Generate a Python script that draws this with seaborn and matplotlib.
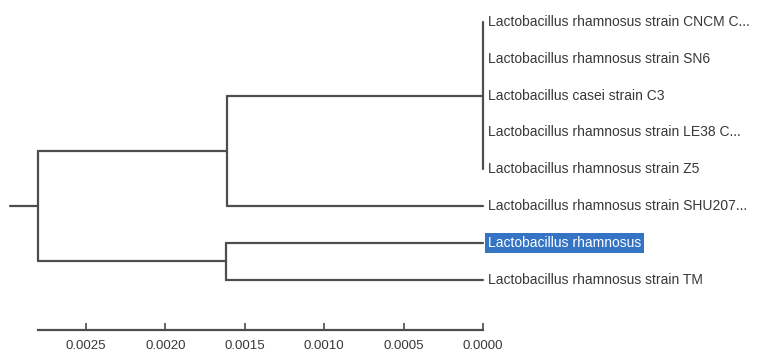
"""
Phylogenetic tree of Lactobacillus strains, redrawn as a dendrogram
"""

import matplotlib

matplotlib.use("Agg")

import pandas as pd
import seaborn as sns
import matplotlib.pyplot as plt
from matplotlib.ticker import FixedLocator, FormatStrFormatter

# leaf labels, top to bottom
leaves = [
    "Lactobacillus rhamnosus strain CNCM C...",
    "Lactobacillus rhamnosus strain SN6",
    "Lactobacillus casei strain C3",
    "Lactobacillus rhamnosus strain LE38 C...",
    "Lactobacillus rhamnosus strain Z5",
    "Lactobacillus rhamnosus strain SHU207...",
    "Lactobacillus rhamnosus",
    "Lactobacillus rhamnosus strain TM",
]
highlighted = "Lactobacillus rhamnosus"

# internal nodes: name, children (leaf index or node name), height (distance)
node_names = ["C", "A", "B", "root"]
node_children = [[0, 1, 2, 3, 4], ["C", 5], [6, 7], ["A", "B"]]
node_heights = [0.0, 0.00161, 0.00162, 0.00280]
root_stub = 0.00298

scale_ticks = [0.0025, 0.0020, 0.0015, 0.0010, 0.0005, 0.0000]

LINE = "#4d4d4d"

# build the segments of the tree
pos = {}
height = {}
for i, name in enumerate(leaves):
    pos[i] = float(i)
    height[i] = 0.0

rows = []
seg = 0
for name, kids, h in zip(node_names, node_children, node_heights):
    ys = [pos[k] for k in kids]
    pos[name] = sum(ys) / len(ys)
    height[name] = h
    # vertical bar
    rows.append({"x": h, "y": min(ys), "seg": seg})
    rows.append({"x": h, "y": max(ys), "seg": seg})
    seg += 1
    # horizontal branches to each child
    for k in kids:
        if height[k] == h:
            continue
        rows.append({"x": h, "y": pos[k], "seg": seg})
        rows.append({"x": height[k], "y": pos[k], "seg": seg})
        seg += 1

rows.append({"x": root_stub, "y": pos["root"], "seg": seg})
rows.append({"x": height["root"], "y": pos["root"], "seg": seg})
edges = pd.DataFrame(rows)

sns.set_style("white")
plt.rcParams["font.family"] = ["Liberation Sans", "DejaVu Sans"]

fig = plt.figure(figsize=(7.61, 3.54), dpi=100)
ax = fig.add_axes([0, 0, 1, 1])

sns.lineplot(
    data=edges,
    x="x",
    y="y",
    units="seg",
    estimator=None,
    sort=False,
    color=LINE,
    linewidth=1.6,
    legend=False,
    ax=ax,
)

for i, name in enumerate(leaves):
    if name == highlighted:
        ax.text(
            -0.000028, i, name, ha="left", va="center", fontsize=10, color="white",
            bbox=dict(facecolor="#3574c4", edgecolor="none", pad=2),
        )
    else:
        ax.text(-0.000028, i, name, ha="left", va="center", fontsize=10, color="#383838")

ax.set_xlim(0.003042, -0.00175)
ax.set_ylim(9.02, -0.598)

# scale bar as the bottom spine
for side in ["top", "left", "right"]:
    ax.spines[side].set_visible(False)
ax.spines["bottom"].set_position(("data", 8.37))
ax.spines["bottom"].set_bounds(height["root"], 0.0)
ax.spines["bottom"].set_color(LINE)
ax.spines["bottom"].set_linewidth(1.6)
ax.xaxis.set_major_locator(FixedLocator(scale_ticks))
ax.xaxis.set_major_formatter(FormatStrFormatter("%.4f"))
ax.tick_params(
    axis="x", direction="in", length=5, width=1.2, color=LINE,
    labelsize=9.5, labelcolor="#383838", pad=7, bottom=True,
)
ax.set_yticks([])
ax.set_xlabel("")
ax.set_ylabel("")

fig.savefig("out.png", dpi=100)
